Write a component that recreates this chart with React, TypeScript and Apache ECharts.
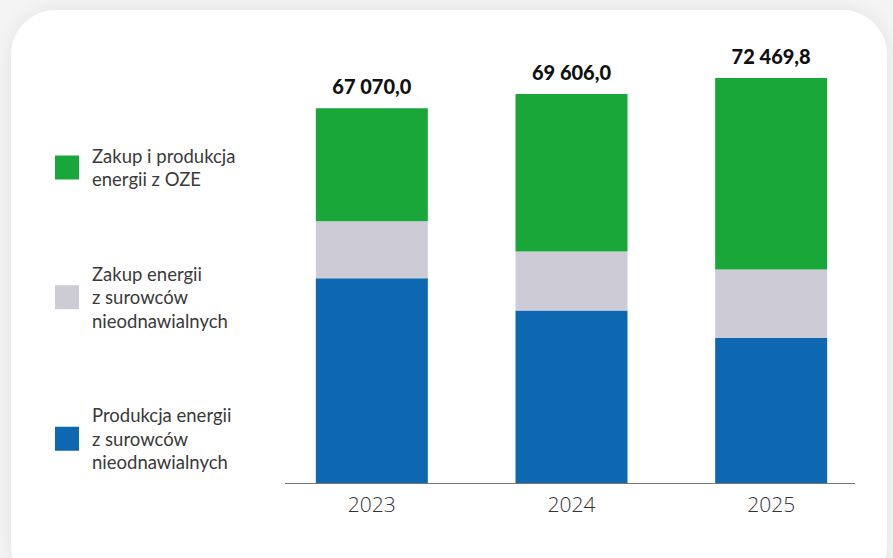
import React, { useEffect, useRef } from "react";
import * as echarts from "echarts";

const categories = ["2023", "2024", "2025"];
const seriesNames = [
  "Produkcja energii\nz surowców\nnieodnawialnych",
  "Zakup energii\nz surowców\nnieodnawialnych",
  "Zakup i produkcja\nenergii z OZE",
];
const productionNonRenewable = [36665, 30857, 26010];
const purchaseNonRenewable = [10194, 10585, 12198];
const renewable = [20211, 28164, 34261.8];
const totals = [67070.0, 69606.0, 72469.8];

const fmt = (n: number) => {
  const [i, d] = n.toFixed(1).split(".");
  return i.replace(/\B(?=(\d{3})+(?!\d))/g, " ") + "," + d;
};

export default function App() {
  const ref = useRef<HTMLDivElement>(null);
  useEffect(() => {
    if (!ref.current) return;
    const chart = echarts.init(ref.current, null, { renderer: "svg" });
    chart.setOption({
      animation: false,
      backgroundColor: "#f4f4f4",
      graphic: [
        {
          type: "rect",
          z: -10,
          shape: { x: 11, y: 10, width: 876, height: 580, r: 45 },
          style: { fill: "#ffffff", shadowBlur: 18, shadowColor: "rgba(0,0,0,0.07)" },
        },
        {
          type: "line",
          z: 5,
          shape: { x1: 285, y1: 483.5, x2: 855, y2: 483.5 },
          style: { stroke: "#77757c", lineWidth: 1 },
        },
      ],
      legend: {
        orient: "vertical",
        left: 55,
        top: 144,
        padding: 0,
        itemWidth: 24,
        itemHeight: 24,
        itemGap: 71,
        icon: "rect",
        data: [seriesNames[2], seriesNames[1], seriesNames[0]],
        textStyle: {
          fontFamily: "Lato",
          fontSize: 18.5,
          lineHeight: 23.5,
          color: "#3a3a3a",
          padding: [0, 0, 0, 8],
        },
        selectedMode: false,
      },
      grid: { left: 272, right: 22, top: 36, bottom: 75 },
      xAxis: {
        type: "category",
        data: categories,
        axisLine: { show: false },
        axisTick: { show: false },
        axisLabel: {
          fontFamily: "Open Sans",
          fontWeight: 300,
          fontSize: 21,
          color: "#333",
          margin: 10,
        },
      },
      yAxis: { type: "value", min: 0, max: 80000, show: false, splitLine: { show: false } },
      series: [
        {
          name: seriesNames[0],
          type: "bar",
          stack: "t",
          barWidth: 112,
          data: productionNonRenewable,
          itemStyle: { color: "#0e68b1" },
        },
        {
          name: seriesNames[1],
          type: "bar",
          stack: "t",
          barWidth: 112,
          data: purchaseNonRenewable,
          itemStyle: { color: "#cdccd6" },
        },
        {
          name: seriesNames[2],
          type: "bar",
          stack: "t",
          barWidth: 112,
          data: renewable,
          itemStyle: { color: "#19a73a" },
          label: {
            show: true,
            position: "top",
            distance: 12,
            formatter: (p: any) => fmt(totals[p.dataIndex]),
            fontFamily: "Lato",
            fontWeight: 900,
            fontSize: 20,
            color: "#111",
          },
        },
      ],
    });
    return () => chart.dispose();
  }, []);
  return (
    <div
      ref={ref}
      style={{ position: "absolute", left: 0, top: 0, width: 893, height: 558 }}
    />
  );
}
